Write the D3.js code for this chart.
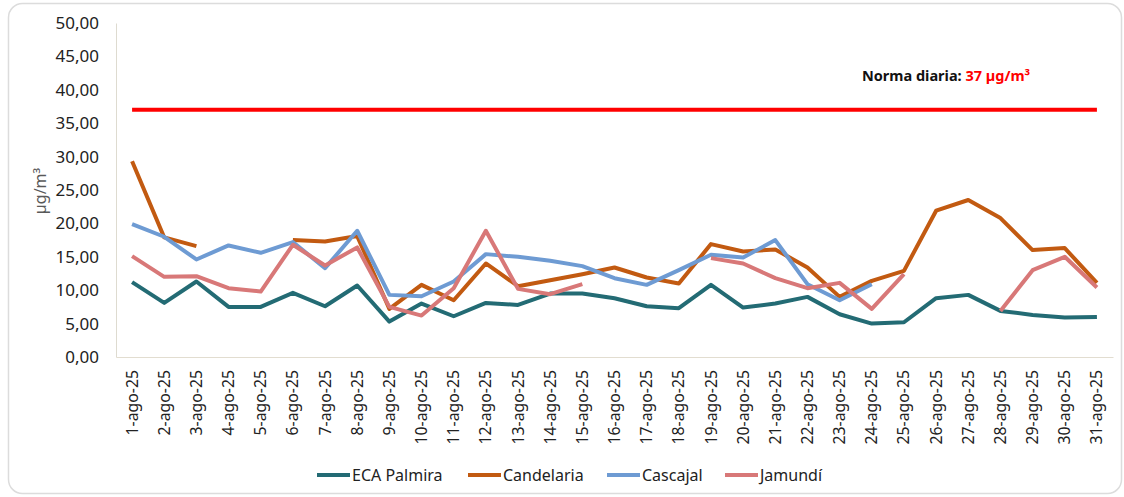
<!DOCTYPE html>
<html>
<head>
<meta charset="utf-8">
<script src="https://cdn.jsdelivr.net/npm/d3@7"></script>
<style>
  body { margin: 0; background: #fff; }
  text { font-family: 'Noto Sans', sans-serif; }
</style>
</head>
<body>
<div id="chart"></div>
<script>
const days = d3.range(1, 32).map(d => d + '-ago-25')

const ecaPalmira = [11.2, 8.1, 11.3, 7.5, 7.5, 9.6, 7.6, 10.7, 5.3, 8.0, 6.1, 8.1, 7.8, 9.5, 9.5, 8.8,
  7.6, 7.3, 10.8, 7.4, 8.0, 9.0, 6.4, 5.0, 5.2, 8.8, 9.3, 6.9, 6.3, 5.9, 6.0]
const candelaria = [29.3, 17.9, 16.6, null, null, 17.5, 17.3, 18.1, 7.2, 10.8, 8.5, 14.0, 10.6, 11.5, 12.4, 13.4,
  11.9, 11.0, 16.9, 15.8, 16.1, 13.4, 9.0, 11.4, 12.9, 21.9, 23.5, 20.8, 16.0, 16.3, 11.1]
const cascajal = [19.9, 18.0, 14.6, 16.7, 15.6, 17.2, 13.3, 18.9, 9.3, 9.1, 11.3, 15.4, 15.0, 14.4, 13.6, 11.8,
  10.8, 13.0, 15.3, 14.9, 17.5, 10.9, 8.5, 10.9, null, null, null, null, null, null, null]
const jamundi = [15.1, 12.0, 12.1, 10.3, 9.8, 16.8, 13.7, 16.4, 7.5, 6.2, 10.3, 18.9, 10.2, 9.4, 10.9, null,
  null, null, 14.8, 14.0, 11.8, 10.3, 11.1, 7.2, 12.4, null, null, 6.9, 13.0, 15.0, 10.4]

const seriesNames = ['ECA Palmira', 'Candelaria', 'Cascajal', 'Jamundí']
const seriesColors = ['#236B74', '#C25A11', '#6E9BD3', '#D87878']
const norma = 37
const yTicks = [0, 5, 10, 15, 20, 25, 30, 35, 40, 45, 50]

const width = 1124
const height = 497
const plot = { left: 116, right: 1113, top: 23, bottom: 357 }

const svg = d3
  .select('#chart')
  .append('svg')
  .attr('width', width)
  .attr('height', height)

// tarjeta de fondo
svg
  .append('rect')
  .attr('x', 8.5)
  .attr('y', 3.5)
  .attr('width', 1113)
  .attr('height', 490)
  .attr('rx', 14)
  .attr('fill', '#fff')
  .attr('stroke', '#dcdcdc')
  .attr('stroke-width', 1.5)

const scaleX = d3
  .scaleBand()
  .domain(days)
  .range([plot.left, plot.right])

const scaleY = d3
  .scaleLinear()
  .domain([0, 50])
  .range([plot.bottom, plot.top])

const cx = d => scaleX(d) + scaleX.bandwidth() / 2

// Eje Y
const axisY = d3
  .axisLeft(scaleY)
  .tickValues(yTicks)
  .tickSize(0)
  .tickPadding(17)
  .tickFormat(d => d3.format('.2f')(d).replace('.', ','))

svg
  .append('g')
  .attr('class', 'y-axis')
  .attr('transform', 'translate(' + plot.left + ',0)')
  .call(axisY)
  .call(g => g.select('.domain').attr('stroke', '#dedbd0'))
  .call(g => g.selectAll('text').attr('font-size', 17).attr('fill', '#222'))

// Eje X
const axisX = d3.axisBottom(scaleX).tickSize(0).tickPadding(10)

svg
  .append('g')
  .attr('class', 'x-axis')
  .attr('transform', 'translate(0,' + plot.bottom + ')')
  .call(axisX)
  .call(g => g.select('.domain').attr('stroke', '#e2ddd0'))
  .call(g =>
    g
      .selectAll('text')
      .attr('font-size', 15.8)
      .attr('fill', '#222')
      .attr('text-anchor', 'end')
      .attr('transform', 'rotate(-90)')
      .attr('x', -13)
      .attr('y', 0)
      .attr('dy', '0.35em')
  )

// titulo eje Y
svg
  .append('text')
  .attr('transform', 'translate(46,191) rotate(-90)')
  .attr('text-anchor', 'middle')
  .attr('font-size', 16)
  .attr('fill', '#595959')
  .text('µg/m³')

// linea norma
svg
  .append('line')
  .attr('x1', cx(days[0]))
  .attr('x2', cx(days[days.length - 1]))
  .attr('y1', scaleY(norma))
  .attr('y2', scaleY(norma))
  .attr('stroke', '#ff0000')
  .attr('stroke-width', 4)

const label = svg
  .append('text')
  .attr('x', 862)
  .attr('y', 81)
  .attr('font-size', 14.5)
  .attr('font-weight', 'bold')
  .attr('fill', '#111')
label.append('tspan').text('Norma diaria: ')
label.append('tspan').attr('fill', '#ff0000').text(norma + ' µg/m³')

// Series
const lineGen = d3
  .line()
  .defined(d => d.v != null)
  .x(d => cx(d.day))
  .y(d => scaleY(d.v))

const allSeries = [ecaPalmira, candelaria, cascajal, jamundi]

svg
  .append('g')
  .attr('class', 'series')
  .selectAll('path')
  .data(allSeries)
  .enter()
  .append('path')
  .attr('d', s => lineGen(s.map((v, i) => ({ day: days[i], v: v }))))
  .attr('fill', 'none')
  .attr('stroke', (s, i) => seriesColors[i])
  .attr('stroke-width', 4)
  .attr('stroke-linejoin', 'round')

// Leyenda
const legendX = [317, 468, 607, 725]

const legend = svg
  .append('g')
  .attr('class', 'legend')
  .selectAll('g')
  .data(seriesNames)
  .enter()
  .append('g')
  .attr('transform', (d, i) => 'translate(' + legendX[i] + ',475)')

legend
  .append('line')
  .attr('x1', 0)
  .attr('x2', 33)
  .attr('stroke', (d, i) => seriesColors[i])
  .attr('stroke-width', 4)

legend
  .append('text')
  .attr('x', 35)
  .attr('dy', '0.35em')
  .attr('font-size', 16)
  .attr('fill', '#222')
  .text(d => d)
</script>
</body>
</html>
